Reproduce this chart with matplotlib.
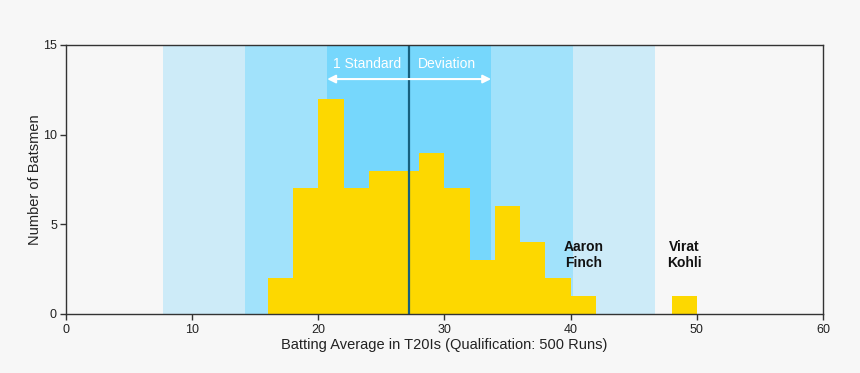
import matplotlib
matplotlib.use("Agg")
import matplotlib.pyplot as plt
import numpy as np

plt.rcParams['font.family'] = ['Liberation Sans', 'DejaVu Sans']

bin_left = [16, 18, 20, 22, 24, 26, 28, 30, 32, 34, 36, 38, 40, 48]
counts = [2, 7, 12, 7, 8, 8, 9, 7, 3, 6, 4, 2, 1, 1]
bin_width = 2
mean_avg = 27.2
sd_avg = 6.5
annotations = [("Aaron\nFinch", 41.0, 3.3), ("Virat\nKohli", 49.0, 3.3)]

bg = '#f7f7f7'
fig = plt.figure(figsize=(8.6, 3.73), dpi=100, facecolor=bg)
ax = fig.add_axes([0.0767, 0.1582, 0.8803, 0.7212])
ax.set_facecolor(bg)

band_colors = ['#cdebf8', '#a1e2fb', '#76d7fc']
for k, c in zip([3, 2, 1], band_colors):
    ax.axvspan(mean_avg - k * sd_avg, mean_avg + k * sd_avg, color=c, lw=0, zorder=1)

ax.bar(bin_left, counts, width=bin_width, align='edge', color='#fdd800', lw=0, zorder=2)
ax.axvline(mean_avg, color='#17607e', lw=1.6, zorder=3)

ax.annotate('', xy=(mean_avg - sd_avg, 13.1), xytext=(mean_avg + sd_avg, 13.1),
            arrowprops=dict(arrowstyle='<|-|>', color='white', lw=1.5,
                            mutation_scale=12, shrinkA=0, shrinkB=0), zorder=4)
ax.text(23.9, 13.95, '1 Standard', color='white', ha='center', va='center', fontsize=10, zorder=4)
ax.text(30.2, 13.95, 'Deviation', color='white', ha='center', va='center', fontsize=10, zorder=4)

for txt, x, y in annotations:
    ax.text(x, y, txt, ha='center', va='center', fontsize=10, fontweight='bold',
            color='#111111', linespacing=1.2, zorder=4)

ax.set_xlim(0, 60)
ax.set_ylim(0, 15)
ax.set_xticks([0, 10, 20, 30, 40, 50, 60])
ax.set_yticks([0, 5, 10, 15])
ax.tick_params(direction='out', length=4, width=1, colors='#333333', labelsize=9, labelcolor='#222222')
ax.tick_params(axis='y', pad=2.5)
for s in ax.spines.values():
    s.set_color('#333333')
    s.set_linewidth(1)
    s.set_zorder(5)
ax.set_xlabel('Batting Average in T20Is (Qualification: 500 Runs)', fontsize=10.5, color='#222222', labelpad=1)
ax.set_ylabel('Number of Batsmen', fontsize=10.5, color='#222222')
ax.yaxis.set_label_coords(-0.031, 0.5)

fig.savefig('out.png', dpi=100, facecolor=bg)
